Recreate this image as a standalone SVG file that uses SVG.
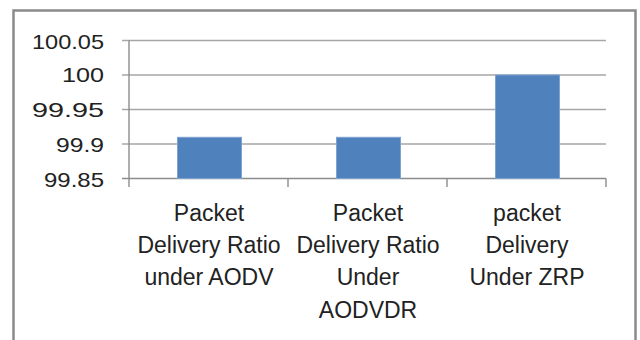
<svg xmlns="http://www.w3.org/2000/svg" width="640" height="340" viewBox="0 0 640 340">
  <style>
    .frame { fill: #ffffff; stroke: #8a8a8a; stroke-width: 2.5; }
    .grid { stroke: #a6a6a6; stroke-width: 1.6; fill: none; }
    .axis { stroke: #8c8c8c; stroke-width: 1.4; fill: none; }
    .bar { fill: #4f81bd; stroke: #7ea3d2; stroke-width: 1; }
    .ylab { font-family: "Liberation Sans", Arial, sans-serif; font-size: 21px; fill: #222222; text-anchor: end; }
    .xlab { font-family: "Liberation Sans", Arial, sans-serif; font-size: 23px; fill: #222222; text-anchor: middle; }
  </style>

  <rect width="640" height="340" fill="#ffffff"/>
  <!-- chart frame (bottom edge runs past the canvas) -->
  <rect class="frame" x="13.5" y="10.5" width="622" height="350"/>

  <!-- gridlines and axes -->
  <g id="axes">
    <line class="grid" x1="122" y1="40.5" x2="606" y2="40.5"/>
    <line class="grid" x1="122" y1="75" x2="606" y2="75"/>
    <line class="grid" x1="122" y1="109.5" x2="606" y2="109.5"/>
    <line class="grid" x1="122" y1="144" x2="606" y2="144"/>
    <line class="axis" x1="122" y1="178.5" x2="606" y2="178.5"/>
    <line class="axis" x1="129" y1="40.5" x2="129" y2="187"/>
    <line class="axis" x1="288" y1="178.5" x2="288" y2="187"/>
    <line class="axis" x1="447" y1="178.5" x2="447" y2="187"/>
    <line class="axis" x1="606" y1="178.5" x2="606" y2="187"/>
  </g>

  <!-- value axis labels -->
  <g id="y-labels">
    <text class="ylab" x="104" y="48.5" textLength="72" lengthAdjust="spacingAndGlyphs">100.05</text>
    <text class="ylab" x="104" y="82" textLength="42" lengthAdjust="spacingAndGlyphs">100</text>
    <text class="ylab" x="104" y="117" textLength="72" lengthAdjust="spacingAndGlyphs">99.95</text>
    <text class="ylab" x="104" y="151.5" textLength="48" lengthAdjust="spacingAndGlyphs">99.9</text>
    <text class="ylab" x="104" y="187" textLength="60" lengthAdjust="spacingAndGlyphs">99.85</text>
  </g>

  <!-- bars -->
  <g id="bar-aodv"><rect class="bar" x="177.5" y="137.3" width="64" height="41.2"/></g>
  <g id="bar-aodvdr"><rect class="bar" x="336.5" y="137.3" width="64" height="41.2"/></g>
  <g id="bar-zrp"><rect class="bar" x="495.5" y="75" width="64" height="103.5"/></g>

  <!-- category labels -->
  <g id="label-aodv">
    <text class="xlab" x="209" y="221">Packet</text>
    <text class="xlab" x="209" y="253">Delivery Ratio</text>
    <text class="xlab" x="209" y="285">under AODV</text>
  </g>
  <g id="label-aodvdr">
    <text class="xlab" x="368" y="221">Packet</text>
    <text class="xlab" x="368" y="253">Delivery Ratio</text>
    <text class="xlab" x="368" y="285">Under</text>
    <text class="xlab" x="368" y="318">AODVDR</text>
  </g>
  <g id="label-zrp">
    <text class="xlab" x="527" y="221">packet</text>
    <text class="xlab" x="527" y="253">Delivery</text>
    <text class="xlab" x="527" y="285">Under ZRP</text>
  </g>
</svg>
